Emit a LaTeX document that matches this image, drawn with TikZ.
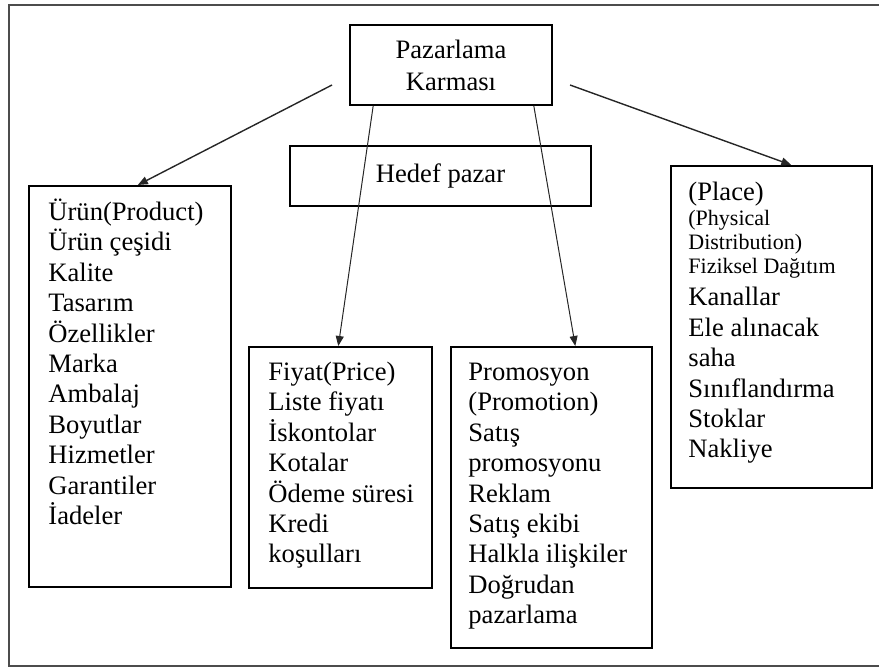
\documentclass[tikz,border=0pt]{standalone}
\usepackage{fontspec}
\setmainfont{Liberation Serif}
\usetikzlibrary{positioning,arrows.meta}

\newcommand{\kucuk}{\fontsize{11}{12.5}\selectfont}
\newcommand{\ilksatir}{\rule{0pt}{12pt}}
\tikzset{
  kutu/.style={draw, line width=0.8pt, rectangle, inner sep=0pt},
  liste/.style={align=left, inner sep=0pt, anchor=north west, font=\fontsize{13.3}{15.2}\selectfont},
  ok/.style={-{Triangle[length=5pt,width=4pt]}, line width=0.7pt, black!85},
  cizgi/.style={line width=0.5pt, black!85}
}

\begin{document}
\begin{tikzpicture}[x=0.5pt, y=-0.5pt]
\useasboundingbox (0,0) rectangle (879,668);
% frame
\draw[line width=1.2pt, black!70] (879,5) -| (9,666) -- (879,666);

% nodes
\node[kutu, minimum width=101pt, minimum height=40pt, align=center, font=\fontsize{13.3}{16}\selectfont] (karma) at (451,65) {Pazarlama\\Karması};%
\node[kutu, minimum width=150.5pt, minimum height=30pt, font=\fontsize{13.3}{15.2}\selectfont] (hedef) at (440.5,176) {Hedef pazar};%
\node[kutu, anchor=north west, minimum width=101pt, minimum height=200.5pt] (urun) at (28,185) {};%
\node[kutu, anchor=north west, minimum width=91.5pt, minimum height=120.5pt] (fiyat) at (248,346) {};%
\node[kutu, anchor=north west, minimum width=100.5pt, minimum height=150.5pt] (promo) at (450,346) {};%
\node[kutu, anchor=north west, minimum width=100.5pt, minimum height=161pt] (yer) at (670,165) {};%

% lists
\node[liste, below right=5.5pt and 10pt of urun.north west] (urunl) {\ilksatir Ürün(Product)\\Ürün çeşidi\\Kalite\\Tasarım\\Özellikler\\Marka\\Ambalaj\\Boyutlar\\Hizmetler\\Garantiler\\İadeler};%
\node[liste, below right=5pt and 10pt of fiyat.north west] (fiyatl) {\ilksatir Fiyat(Price)\\Liste fiyatı\\İskontolar\\Kotalar\\Ödeme süresi\\Kredi\\koşulları};%
\node[liste, below right=5pt and 9pt of promo.north west] (promol) {\ilksatir Promosyon\\(Promotion)\\Satış\\promosyonu\\Reklam\\Satış ekibi\\Halkla ilişkiler\\Doğrudan\\pazarlama};%
\node[liste, below right=5.5pt and 9pt of yer.north west] (yerl) {\ilksatir (Place)\\[-2.7pt]{\kucuk (Physical}\\[-3.2pt]{\kucuk Distribution)}\\[-3.2pt]{\kucuk Fiziksel Dağıtım}\\[1pt]Kanallar\\Ele alınacak\\saha\\Sınıflandırma\\Stoklar\\Nakliye};%

% edges
\coordinate (solbas) at (332,85);
\coordinate (sagbas) at (570,85);
\draw[ok] (solbas) -- ([xshift=4pt]urun.north);
\draw[ok] (sagbas) -- ([xshift=10pt]yer.north);
\draw[ok, cizgi] ([xshift=12pt]karma.south west) -- ([xshift=-1pt]fiyat.north);
\draw[ok, cizgi] ([xshift=-9.5pt]karma.south east) -- ([xshift=12pt]promo.north);
\end{tikzpicture}
\end{document}
